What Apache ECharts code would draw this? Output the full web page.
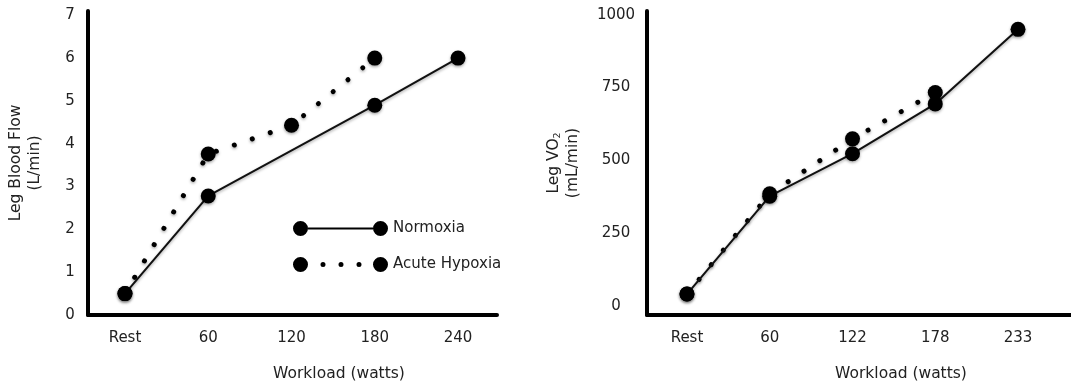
<!DOCTYPE html>
<html>
<head>
<meta charset="utf-8">
<script src="https://cdn.jsdelivr.net/npm/echarts@6/dist/echarts.min.js"></script>
<style>
  html, body { margin: 0; padding: 0; background: #fff; }
  #chart { width: 1071px; height: 387px; }
</style>
</head>
<body>
<div id="chart"></div>
<script>
// Leg blood flow (L/min) by workload
const flowCategories = ['Rest', '60', '120', '180', '240'];
const flowNormoxia = [0.5, 2.78, null, 4.9, 6.0];
const flowHypoxia = [0.5, 3.76, 4.43, 6.0, null];
const flowTicks = [0, 1, 2, 3, 4, 5, 6, 7];

// Leg VO2 (mL/min) by workload
const vo2Categories = ['Rest', '60', '122', '178', '233'];
const vo2Normoxia = [41, 377, 523, 694, 950];
const vo2Hypoxia = [41, 385, 574, 733, null];
const vo2Ticks = [0, 250, 500, 750, 1000];

const FONT = '"DejaVu Sans", "Open Sans", sans-serif';
const INK = '#222';

// index positions on the category scale, skipping missing values
function pairs(values) {
  const out = [];
  values.forEach((v, i) => { if (v !== null) out.push([i, v]); });
  return out;
}

const shadow = { shadowColor: 'rgba(0,0,0,0.35)', shadowBlur: 3, shadowOffsetY: 1.5 };

function solidSeries(name, values, axisIndex) {
  return {
    name, type: 'line', xAxisIndex: axisIndex, yAxisIndex: axisIndex,
    data: pairs(values),
    symbol: 'circle', symbolSize: 15,
    itemStyle: Object.assign({ color: '#000' }, shadow),
    lineStyle: Object.assign({ color: '#111', width: 2 }, shadow),
    z: 3, silent: true
  };
}

function dottedSeries(name, values, axisIndex) {
  return {
    name, type: 'line', xAxisIndex: axisIndex, yAxisIndex: axisIndex,
    data: pairs(values),
    symbol: 'circle', symbolSize: 15,
    itemStyle: Object.assign({ color: '#000' }, shadow),
    lineStyle: Object.assign({ color: '#000', width: 5, type: [0.01, 19], cap: 'round' }, shadow),
    z: 2, silent: true
  };
}

function xAxisFor(gridIndex, cats, min, max, pad) {
  return {
    type: 'value', gridIndex, min, max,
    name: 'Workload (watts)', nameLocation: 'middle', nameGap: 51,
    nameTextStyle: { fontFamily: FONT, fontSize: 15.5, color: INK, padding: [0, 0, 0, pad] },
    axisLine: { show: true, onZero: false, lineStyle: { color: '#000', width: 4 } },
    axisTick: { show: false },
    splitLine: { show: false },
    axisLabel: {
      customValues: cats.map((c, i) => i),
      formatter: v => cats[Math.round(v)],
      margin: 16, fontFamily: FONT, fontSize: 15, color: INK
    }
  };
}

function yAxisFor(gridIndex, ticks, min, max, name, gap, margin, rich) {
  return {
    type: 'value', gridIndex, min, max,
    name, nameLocation: 'middle', nameRotate: 90, nameGap: gap,
    nameTextStyle: { fontFamily: FONT, fontSize: 15.5, color: INK, lineHeight: 19, align: 'center', rich },
    axisLine: { show: true, onZero: false, lineStyle: { color: '#000', width: 4 } },
    axisTick: { show: false },
    splitLine: { show: false },
    axisLabel: {
      customValues: ticks, align: 'center',
      formatter: v => String(v),
      margin, fontFamily: FONT, fontSize: 15, color: INK
    }
  };
}

const normoxiaIcon = 'path://M0,7.5 A7.5,7.5 0 1,1 15,7.5 A7.5,7.5 0 1,1 0,7.5 Z ' +
  'M15,6.5 L80,6.5 L80,8.5 L15,8.5 Z ' +
  'M80,7.5 A7.5,7.5 0 1,1 95,7.5 A7.5,7.5 0 1,1 80,7.5 Z';
const hypoxiaIcon = 'path://M0,7.5 A7.5,7.5 0 1,1 15,7.5 A7.5,7.5 0 1,1 0,7.5 Z ' +
  'M27.5,7.5 A2.5,2.5 0 1,1 32.5,7.5 A2.5,2.5 0 1,1 27.5,7.5 Z ' +
  'M45.5,7.5 A2.5,2.5 0 1,1 50.5,7.5 A2.5,2.5 0 1,1 45.5,7.5 Z ' +
  'M63.5,7.5 A2.5,2.5 0 1,1 68.5,7.5 A2.5,2.5 0 1,1 63.5,7.5 Z ' +
  'M80,7.5 A7.5,7.5 0 1,1 95,7.5 A7.5,7.5 0 1,1 80,7.5 Z';

const chart = echarts.init(document.getElementById('chart'), null, { renderer: 'canvas' });
chart.setOption({
  backgroundColor: '#fff',
  animation: false,
  textStyle: { fontFamily: FONT },
  grid: [
    { left: 88, top: 11, width: 409, height: 305 },
    { left: 647, top: 11, width: 424, height: 305 }
  ],
  legend: {
    orient: 'vertical', left: 288, top: 216, itemWidth: 95, itemHeight: 15, itemGap: 21,
    selectedMode: false,
    textStyle: { fontFamily: FONT, fontSize: 15, color: INK },
    data: [
      { name: 'Normoxia', icon: normoxiaIcon },
      { name: 'Acute Hypoxia', icon: hypoxiaIcon }
    ]
  },
  xAxis: [
    xAxisFor(0, flowCategories, -0.444, 4.468, 93),
    xAxisFor(1, vo2Categories, -0.483, 4.64, 84)
  ],
  yAxis: [
    yAxisFor(0, flowTicks, 0, 7.1, 'Leg Blood Flow\n(L/min)', 44, 18, {}),
    yAxisFor(1, vo2Ticks, -31, 1013, 'Leg VO{sub|2}\n(mL/min)', 65, 31,
      { sub: { fontFamily: FONT, fontSize: 9.5, color: INK, verticalAlign: 'bottom', padding: [6, 0, 0, 0] } })
  ],
  series: [
    solidSeries('Normoxia', flowNormoxia, 0),
    dottedSeries('Acute Hypoxia', flowHypoxia, 0),
    solidSeries('Normoxia', vo2Normoxia, 1),
    dottedSeries('Acute Hypoxia', vo2Hypoxia, 1)
  ]
});
</script>
</body>
</html>
